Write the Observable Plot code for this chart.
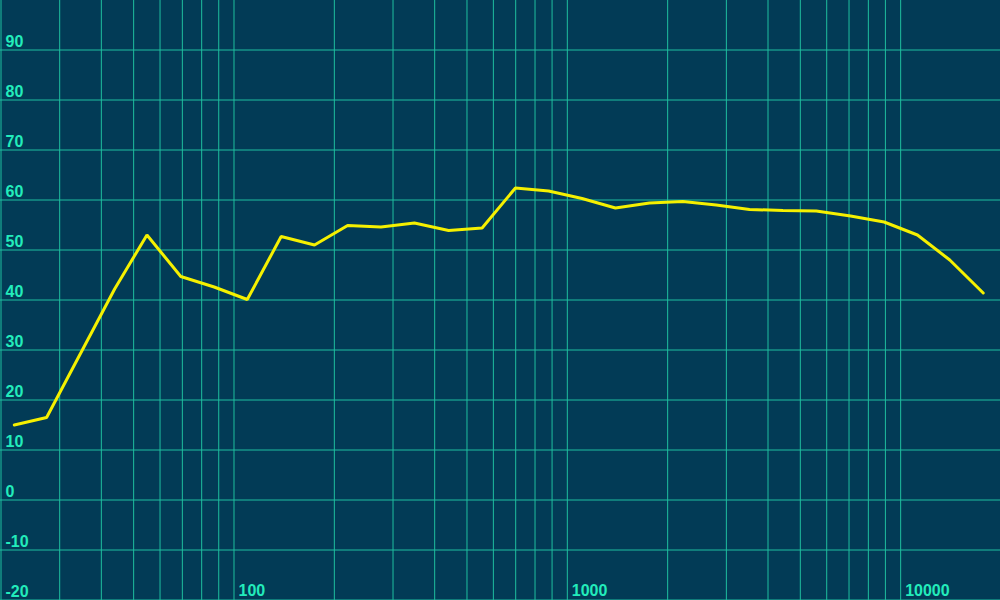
<!DOCTYPE html>
<html>
<head>
<meta charset="utf-8">
<script src="https://cdn.jsdelivr.net/npm/d3@7"></script>
<script src="https://cdn.jsdelivr.net/npm/@observablehq/plot@0.6"></script>
<style>
  html, body { margin: 0; padding: 0; background: #023b56; }
  #chart svg { display: block; }
</style>
</head>
<body>
<div id="chart"></div>
<script>
const freqs = [22, 27.5, 44, 55, 69.5, 87.5, 110, 139, 175, 220, 277, 349, 442, 557, 701, 882, 1111, 1399, 1770, 2229, 2807, 3533, 4450, 5602, 7097, 8953, 11270, 14090, 17750];
const levels = [15.1, 16.6, 42.3, 53.1, 44.8, 42.7, 40.2, 52.8, 51.1, 55.0, 54.7, 55.5, 54.0, 54.5, 62.5, 61.9, 60.4, 58.5, 59.5, 59.8, 59.1, 58.2, 58.0, 57.9, 56.9, 55.7, 53.1, 48.1, 41.5];
const xGrid = [20, 30, 40, 50, 60, 70, 80, 90, 100, 200, 300, 400, 500, 600, 700, 800, 900, 1000, 2000, 3000, 4000, 5000, 6000, 7000, 8000, 9000, 10000];
const xLabels = [100, 1000, 10000];
const yTicks = [-20, -10, 0, 10, 20, 30, 40, 50, 60, 70, 80, 90];

const data = freqs.map((f, i) => ({f, v: levels[i]}));

const gridColor = "#1fbf9f";
const labelColor = "#22ecbb";

const chart = Plot.plot({
  width: 1000,
  height: 600,
  marginTop: 0, marginRight: 0, marginBottom: 0, marginLeft: 0,
  style: {background: "#023b56", fontFamily: "'Liberation Sans', Arial, sans-serif"},
  x: {type: "log", domain: [20, 20000], axis: null},
  y: {domain: [-20, 100], axis: null},
  marks: [
    Plot.ruleX(xGrid, {x: d => d, stroke: gridColor, strokeWidth: 1, dx: 0.5}),
    Plot.ruleY(yTicks, {y: d => d, stroke: gridColor, strokeWidth: 1, dy: d => d === -20 ? -1 : -0.5}),
    Plot.line(data, {x: "f", y: "v", stroke: "#f5f000", strokeWidth: 3, strokeLinejoin: "miter", strokeLinecap: "round"}),
    Plot.text(yTicks, {x: 20, y: d => d, text: d => String(d), textAnchor: "start", lineAnchor: "bottom", dx: 5, dy: -4, fill: labelColor, fontSize: 16, fontWeight: "bold"}),
    Plot.text(xLabels, {x: d => d, y: -20, text: d => String(d), textAnchor: "start", lineAnchor: "bottom", dx: 5, dy: -5, fill: labelColor, fontSize: 16, fontWeight: "bold"})
  ]
});
document.getElementById("chart").appendChild(chart);
</script>
</body>
</html>
